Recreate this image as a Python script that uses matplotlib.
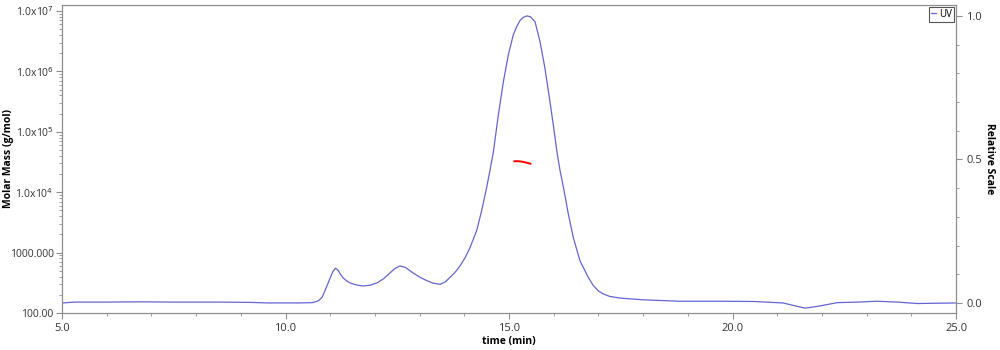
import matplotlib
matplotlib.use("Agg")
import matplotlib.pyplot as plt
from matplotlib.ticker import FixedLocator, FixedFormatter, MultipleLocator, LogLocator, NullFormatter

UV_COLOR = "#6464d2"
MM_COLOR = "#ff0000"
GREY = "#8c8c8c"

# UV trace (relative scale)
uv_time = [5.0, 5.3, 6.0, 6.7, 7.5, 8.5, 9.2, 9.6, 10.3, 10.6, 10.73, 10.82,
           10.88, 10.95, 11.0, 11.06, 11.12, 11.18, 11.23, 11.29, 11.36, 11.44,
           11.58, 11.73, 11.9, 12.05, 12.2, 12.34, 12.45, 12.56, 12.68, 12.85,
           13.0, 13.17, 13.3, 13.456, 13.57, 13.68, 13.79, 13.904, 14.02, 14.128,
           14.277, 14.389, 14.501, 14.575, 14.649, 14.761, 14.873, 14.985,
           15.096, 15.17, 15.246, 15.32, 15.40, 15.48, 15.582, 15.694, 15.805,
           15.917, 16.0, 16.074, 16.141, 16.231, 16.327, 16.438, 16.588, 16.774,
           16.88, 16.998, 17.1, 17.25, 17.48, 18.0, 18.8, 19.8, 20.5, 21.13,
           21.4, 21.62, 21.9, 22.34, 22.8, 23.23, 23.7, 24.13, 25.0]
uv_rel = [0.000, 0.003, 0.003, 0.004, 0.003, 0.003, 0.002, 0.000, 0.000, 0.001,
          0.007, 0.020, 0.042, 0.068, 0.087, 0.110, 0.121, 0.113, 0.100, 0.087,
          0.078, 0.070, 0.063, 0.059, 0.062, 0.070, 0.085, 0.105, 0.120, 0.129,
          0.124, 0.105, 0.090, 0.077, 0.069, 0.065, 0.073, 0.089, 0.106, 0.129,
          0.158, 0.193, 0.252, 0.322, 0.403, 0.462, 0.525, 0.654, 0.770, 0.864,
          0.934, 0.962, 0.984, 0.995, 1.000, 0.997, 0.980, 0.910, 0.817, 0.701,
          0.610, 0.525, 0.462, 0.392, 0.310, 0.228, 0.147, 0.089, 0.062, 0.042,
          0.032, 0.023, 0.017, 0.011, 0.006, 0.006, 0.005, 0.000, -0.010,
          -0.018, -0.012, 0.001, 0.003, 0.006, 0.003, -0.002, 0.000]

# molar mass across the main peak
mm_time = [15.12, 15.2, 15.3, 15.4, 15.48]
mm_value = [32500, 32700, 32000, 30800, 29600]

y_ticks = [100, 1000, 1e4, 1e5, 1e6, 1e7]
y_labels = ["100.00", "1000.000", r"1.0x10$^{4}$", r"1.0x10$^{5}$",
            r"1.0x10$^{6}$", r"1.0x10$^{7}$"]
x_ticks = [5, 10, 15, 20, 25]

plt.rcParams["font.family"] = ["Open Sans", "DejaVu Sans"]

fig = plt.figure(figsize=(10, 3.5), dpi=100)
ax = fig.add_axes([0.062, 1 - 313 / 350, 0.894, 308 / 350])
ax2 = ax.twinx()

ax.plot(mm_time, mm_value, color=MM_COLOR, lw=1.4, zorder=3)
ax2.plot(uv_time, uv_rel, color=UV_COLOR, lw=0.9, label="UV")

ax.set_yscale("log")
ax.set_ylim(100, 10 ** 7.1)
ax.yaxis.set_major_locator(FixedLocator(y_ticks))
ax.yaxis.set_major_formatter(FixedFormatter(y_labels))
ax.yaxis.set_minor_locator(LogLocator(base=10, subs=range(2, 10)))
ax.yaxis.set_minor_formatter(NullFormatter())

ax.set_xlim(5, 25)
ax.xaxis.set_major_locator(FixedLocator(x_ticks))
ax.set_xticklabels([f"{v:.1f}" for v in x_ticks])
ax.xaxis.set_minor_locator(MultipleLocator(1))

ax2.set_ylim(-0.035, 1.038)
ax2.yaxis.set_major_locator(FixedLocator([0, 0.5, 1.0]))
ax2.set_yticklabels(["0.0", "0.5", "1.0"])
ax2.yaxis.set_minor_locator(MultipleLocator(0.1))

ax.set_zorder(ax2.get_zorder() + 1)
ax.patch.set_visible(False)

for a in (ax, ax2):
    for sp in a.spines.values():
        sp.set_color(GREY)
    a.tick_params(which="both", colors=GREY, labelcolor="#333333", labelsize=8)
    a.tick_params(which="major", length=4)
    a.tick_params(which="minor", length=2.5)
ax.tick_params(axis="y", labelsize=7.5, pad=2)

ax.set_xlabel("time (min)", fontsize=7.5, fontweight="bold", labelpad=1)
ax.set_ylabel("Molar Mass (g/mol)", fontsize=7.5, fontweight="bold")
ax.yaxis.set_label_coords(-0.054, 0.5)
ax2.set_ylabel("Relative Scale", fontsize=7.5, fontweight="bold",
               rotation=270, labelpad=9)

leg = ax2.legend(loc="upper right", fontsize=7, handlelength=0.5,
                 handletextpad=0.3, borderpad=0.2, borderaxespad=0.2,
                 fancybox=False, framealpha=1)
leg.get_frame().set_edgecolor("#555555")
leg.get_frame().set_linewidth(0.8)

fig.savefig("out.png", dpi=100)
